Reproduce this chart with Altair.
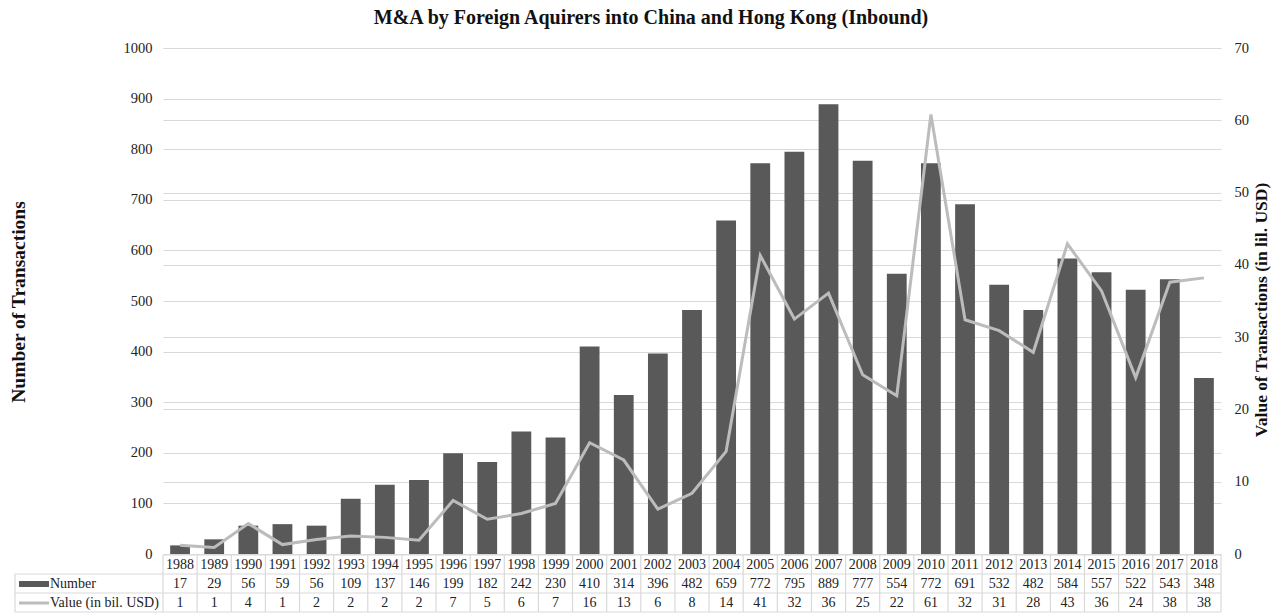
import altair as alt
import pandas as pd

years = [str(y) for y in range(1988, 2019)]
numbers = [17, 29, 56, 59, 56, 109, 137, 146, 199, 182, 242, 230, 410, 314, 396,
           482, 659, 772, 795, 889, 777, 554, 772, 691, 532, 482, 584, 557, 522, 543, 348]
values = [1.2, 0.9, 4.2, 1.3, 2.0, 2.5, 2.3, 1.9, 7.4, 4.8, 5.6, 7.0, 15.4, 13.0, 6.2,
          8.4, 14.2, 41.3, 32.5, 36.1, 24.8, 21.9, 60.8, 32.4, 30.9, 27.9, 42.9, 36.4, 24.4, 37.6, 38.2]
value_labels = [1, 1, 4, 1, 2, 2, 2, 2, 7, 5, 6, 7, 16, 13, 6,
                8, 14, 41, 32, 36, 25, 22, 61, 32, 31, 28, 43, 36, 24, 38, 38]

title_text = "M&A by Foreign Aquirers into China and Hong Kong (Inbound)"
left_title = "Number of Transactions"
right_title = "Value of Transactions (in lil. USD)"
series_names = ["Number", "Value (in bil. USD)"]

df = pd.DataFrame({"year": years, "number": numbers, "value": values, "vlabel": value_labels})
one = pd.DataFrame({"k": [0]})

FONT = "Liberation Serif"
BAR = "#595959"
LINE = "#bcbcbc"
GRID = "#d9d9d9"
L, T = 163, 48
W, H = 1058, 506

xenc = alt.X("year:N", sort=years, axis=None,
             scale=alt.Scale(paddingInner=0, paddingOuter=0))

base = alt.Chart(df)

bars = base.mark_bar(color=BAR, width=alt.RelativeBandSize(0.58)).encode(
    x=xenc,
    y=alt.Y("number:Q", scale=alt.Scale(domain=[0, 1000]),
            axis=alt.Axis(title=None, values=list(range(0, 1001, 100)), orient="left",
                          format="d",
                          grid=True, gridColor=GRID, gridWidth=1.2, domain=False, ticks=False,
                          labelFont=FONT, labelFontSize=14.5, labelColor="#222222",
                          labelPadding=11)),
)

line = base.mark_line(color=LINE, strokeWidth=3).encode(
    x=xenc,
    y=alt.Y("value:Q", scale=alt.Scale(domain=[0, 70]),
            axis=alt.Axis(title=None, values=list(range(0, 71, 10)), orient="right",
                          format="d",
                          grid=True, gridColor=GRID, gridWidth=1.2, domain=False, ticks=False,
                          labelFont=FONT, labelFontSize=14.5, labelColor="#222222",
                          labelPadding=13)),
)

ROW_Y = [H + 11, H + 30, H + 49]  # centers of table rows (relative to plot top)
LINES_Y = [H + 1, H + 20, H + 39, H + 58]
LEFT = 15 - L

txt_kw = dict(font=FONT, fontSize=14, color="#222222", baseline="middle")
year_txt = base.mark_text(**txt_kw).encode(x=xenc, y=alt.value(ROW_Y[0]), text="year:N")
num_txt = base.mark_text(**txt_kw).encode(x=xenc, y=alt.value(ROW_Y[1]), text="number:Q")
val_txt = base.mark_text(**txt_kw).encode(x=xenc, y=alt.value(ROW_Y[2]), text="vlabel:Q")

vrules = base.mark_rule(color=GRID, strokeWidth=1.2).encode(
    x=alt.X("year:N", sort=years, axis=None, bandPosition=0,
            scale=alt.Scale(paddingInner=0, paddingOuter=0)),
    y=alt.value(LINES_Y[0]), y2=alt.value(LINES_Y[3]))

deco = alt.Chart(one)
right_edge = deco.mark_rule(color=GRID, strokeWidth=1.2).encode(
    x=alt.value(W), y=alt.value(LINES_Y[0]), y2=alt.value(LINES_Y[3]))
left_edge = deco.mark_rule(color=GRID, strokeWidth=1.2).encode(
    x=alt.value(LEFT), y=alt.value(LINES_Y[1]), y2=alt.value(LINES_Y[3]))
h_top = deco.mark_rule(color=GRID, strokeWidth=1.2).encode(
    x=alt.value(0), x2=alt.value(W), y=alt.value(LINES_Y[0]))
h1 = deco.mark_rule(color=GRID, strokeWidth=1.2).encode(
    x=alt.value(LEFT), x2=alt.value(W), y=alt.value(LINES_Y[1]))
h2 = deco.mark_rule(color=GRID, strokeWidth=1.2).encode(
    x=alt.value(LEFT), x2=alt.value(W), y=alt.value(LINES_Y[2]))
h3 = deco.mark_rule(color=GRID, strokeWidth=1.2).encode(
    x=alt.value(LEFT), x2=alt.value(W), y=alt.value(LINES_Y[3]))

leg_rect = deco.mark_rect(color=BAR).encode(
    x=alt.value(LEFT + 4), x2=alt.value(LEFT + 34),
    y=alt.value(ROW_Y[1] - 3), y2=alt.value(ROW_Y[1] + 3))
leg_line = deco.mark_rule(color=LINE, strokeWidth=3).encode(
    x=alt.value(LEFT + 4), x2=alt.value(LEFT + 34), y=alt.value(ROW_Y[2]))
leg_t1 = deco.mark_text(align="left", **txt_kw).encode(
    x=alt.value(LEFT + 35), y=alt.value(ROW_Y[1]), text=alt.value(series_names[0]))
leg_t2 = deco.mark_text(align="left", **txt_kw).encode(
    x=alt.value(LEFT + 35), y=alt.value(ROW_Y[2]), text=alt.value(series_names[1]))

title_mark = deco.mark_text(font=FONT, fontSize=20, fontWeight="bold", color="#111111",
                            baseline="middle").encode(
    x=alt.value(651 - L), y=alt.value(18 - T), text=alt.value(title_text))
ltitle = deco.mark_text(font=FONT, fontSize=19.5, fontWeight="bold", color="#111111",
                        angle=270, baseline="middle").encode(
    x=alt.value(19 - L), y=alt.value(302 - T), text=alt.value(left_title))
rtitle = deco.mark_text(font=FONT, fontSize=17.5, fontWeight="bold", color="#111111",
                        angle=270, baseline="middle").encode(
    x=alt.value(1262 - L), y=alt.value(310 - T), text=alt.value(right_title))

chart = alt.layer(
    bars, line, vrules, right_edge, left_edge, h_top, h1, h2, h3,
    year_txt, num_txt, val_txt, leg_rect, leg_line, leg_t1, leg_t2,
    title_mark, ltitle, rtitle
).resolve_scale(y="independent").properties(
    width=W, height=H,
    autosize=alt.AutoSizeParams(type="none"),
    padding={"left": L, "top": T, "right": 1280 - L - W, "bottom": 613 - T - H},
    background="white",
).configure_view(stroke=None)

chart.save("out.html", embed_options={"renderer": "svg", "actions": False})
